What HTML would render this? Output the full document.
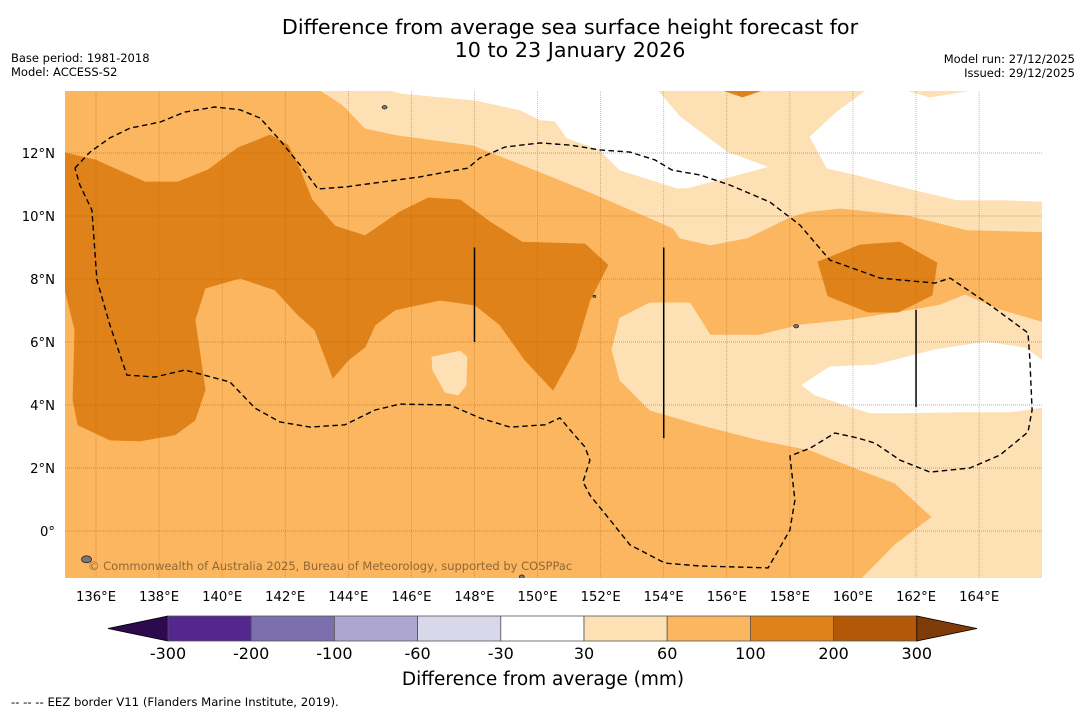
<!DOCTYPE html>
<html><head><meta charset="utf-8"><style>
html,body{margin:0;padding:0;background:#fff;}
svg{display:block;font-family:"DejaVu Sans","Liberation Sans",sans-serif;}
</style></head><body>
<svg id="chart" width="1085" height="713" viewBox="0 0 1085 713" xmlns="http://www.w3.org/2000/svg">
<defs><clipPath id="mapclip"><rect x="65" y="91" width="977" height="487"/></clipPath></defs>
<text x="570" y="34" text-anchor="middle" font-size="20.7" fill="#000">Difference from average sea surface height forecast for</text>
<text x="570" y="57" text-anchor="middle" font-size="20.7" fill="#000">10 to 23 January 2026</text>
<text x="11" y="62" font-size="11.5">Base period: 1981-2018</text>
<text x="11" y="76" font-size="11.5">Model: ACCESS-S2</text>
<text x="1075" y="63" font-size="11.5" text-anchor="end">Model run: 27/12/2025</text>
<text x="1075" y="77" font-size="11.5" text-anchor="end">Issued: 29/12/2025</text>
<g id="map" clip-path="url(#mapclip)"></g>
<g id="axes"></g>
<g id="cbar"></g>
<text x="543" y="685" text-anchor="middle" font-size="18.5">Difference from average (mm)</text>
<text x="11" y="706" font-size="11.7">--  --  -- EEZ border V11 (Flanders Marine Institute, 2019).</text>
</svg>
<script>
// ---- data ----
const lonTicks = [136,138,140,142,144,146,148,150,152,154,156,158,160,162,164];
const latTicks = [0,2,4,6,8,10,12];
const cbarLevels = [-300,-200,-100,-60,-30,30,60,100,200,300];
const cbarColors = ["#54278f","#7b6fad","#aca6d0","#d8d8ea","#ffffff","#fde0b4","#fbb65f","#e0821a","#b35806"];
const cbarLow = "#2d0a4e", cbarHigh = "#7f3b08";
const darkWest = [[135.02,12.0],[135.97,11.78],[137.55,11.08],[138.6,11.08],[139.55,11.46],[140.5,12.16],[141.52,12.57],[142.09,12.25],[142.47,11.46],[142.85,10.51],[143.58,9.68],[144.53,9.37],[145.64,10.13],[146.53,10.57],[147.54,10.51],[148.49,9.81],[149.51,9.17],[151.5,9.11],[152.23,8.44],[151.66,7.33],[151.19,5.75],[150.49,4.48],[149.6,5.43],[148.81,6.54],[148.02,7.17],[146.91,7.33],[145.48,7.02],[144.85,6.54],[144.53,5.84],[144.0,5.43],[143.51,4.86],[142.94,6.38],[142.4,6.86],[141.68,7.65],[140.57,8.03],[139.46,7.71],[139.14,6.7],[139.46,4.48],[139.14,3.52],[138.5,3.05],[137.4,2.86],[136.44,2.89],[135.43,3.37],[135.27,4.16],[135.33,6.38],[135.02,7.65],[134.5,7.65],[134.5,12.0]];
const darkEast = [[158.89,8.54],[160.22,9.08],[161.49,9.17],[162.66,8.51],[162.51,7.49],[161.43,6.95],[160.48,6.95],[159.21,7.46]];
const darkTop = [[155.85,14.2],[157.15,14.2],[157.15,14.0],[156.5,13.78],[155.85,14.0]];
const lightNorth = [[143.1,14.2],[143.1,14],[143.83,13.52],[144.53,12.79],[145.54,12.57],[147.95,12.25],[150.08,11.40],[151.66,10.76],[154.29,9.62],[154.52,9.30],[155.47,9.08],[156.64,9.30],[157.94,9.94],[158.54,10.13],[159.59,10.25],[161.71,10.03],[163.62,9.56],[166.5,9.49],[166.5,14.2]];
const whiteNorthMid = [[145.32,14.2],[153.79,14.2],[153.79,14],[154.52,13.14],[156.01,12.03],[157.27,11.56],[154.74,10.89],[154.42,10.89],[152.61,11.46],[151.98,12.10],[150.93,12.48],[150.55,13.02],[150.08,13.05],[149.44,13.37],[148.02,13.68],[145.64,13.9],[145.32,14]];
const whiteNorthEast = [[160.45,14.2],[161.59,14.2],[161.59,14],[162.44,13.75],[163.96,14],[163.96,14.2],[166.5,14.2],[166.5,10.44],[164.88,10.51],[163.3,10.51],[161.71,10.89],[160.13,11.30],[159.18,11.52],[158.64,12.51],[159.49,13.3],[160.45,14]];
const lightSouthEast = [[152.61,6.76],[153.56,7.24],[154.83,7.24],[155.47,6.22],[157.05,6.22],[158.32,6.54],[159.91,6.70],[161.49,6.95],[162.76,7.17],[163.55,7.49],[164.66,7.02],[166.5,6.48],[166.5,-2],[160.0,-2],[160.29,-1.5],[161.33,-0.44],[162.51,0.44],[161.33,1.52],[160.22,1.94],[158.64,2.57],[157.05,2.89],[155.15,3.37],[153.56,3.84],[152.61,4.79],[152.36,5.75]];
const whiteSouthEast = [[158.38,4.63],[159.27,5.21],[160.7,5.27],[162.6,5.75],[164.19,6.0],[165.45,5.81],[166.5,5.05],[166.5,4.0],[164.98,3.78],[163.39,3.78],[161.65,3.75],[160.54,3.75],[159.75,4.0],[158.8,4.32]];
const lightBlob = [[146.65,5.52],[147.54,5.71],[147.76,5.52],[147.73,4.63],[147.48,4.32],[147.07,4.41],[146.68,5.11]];
const eezLine = [[135.33,11.52],[135.81,12.03],[136.44,12.48],[137.08,12.79],[138.03,12.98],[138.82,13.3],[139.77,13.46],[140.57,13.37],[141.2,13.11],[141.83,12.41],[142.47,11.62],[143.04,10.86],[143.89,10.92],[146.27,11.24],[147.79,11.52],[148.17,11.84],[148.97,12.19],[150.08,12.32],[151.03,12.25],[151.98,12.10],[152.93,12.03],[153.72,11.78],[154.26,11.46],[155.15,11.3],[156.1,10.98],[157.37,10.44],[158.32,9.71],[159.27,8.6],[160.86,8.03],[162.6,7.87],[163.08,8.03],[164.35,7.17],[165.55,6.29],[165.61,5.43],[165.68,3.84],[165.55,3.14],[164.66,2.41],[163.71,2.0],[162.44,1.87],[161.49,2.25],[160.7,2.79],[160.16,2.95],[159.43,3.11],[158.64,2.63],[158.0,2.38],[158.16,0.98],[158.0,0.03],[157.31,-1.17],[155.15,-1.11],[154.04,-1.02],[152.93,-0.44],[152.3,0.35],[151.66,1.14],[151.44,1.56],[151.66,2.25],[151.5,2.67],[151.09,3.14],[150.71,3.59],[150.24,3.37],[149.13,3.30],[148.17,3.59],[147.22,4.0],[145.64,4.03],[144.85,3.84],[143.89,3.37],[142.79,3.30],[141.83,3.46],[141.04,3.9],[140.25,4.73],[138.82,5.11],[137.87,4.89],[136.98,4.95],[136.44,6.54],[136.03,7.97],[135.87,10.19],[135.49,10.98],[135.33,11.52]];
const vLines = [[148,9.0,6.0],[154,9.0,2.95],[162,7.02,3.94]];
const islands = [[145.15,13.45,2.5],[135.7,-0.9,5],[158.2,6.5,2.5],[149.5,-1.45,2.5],[151.8,7.45,1.5]];
// ---- axis functions ----
const X = lon => 96 + (lon-136)*31.54;
const Y = lat => 531 - lat*31.5;
const NS = "http://www.w3.org/2000/svg";
function mk(tag, attrs, parent){const e=document.createElementNS(NS,tag);for(const k in attrs)e.setAttribute(k,attrs[k]);parent.appendChild(e);return e;}
const map = document.getElementById('map');
const axes = document.getElementById('axes');
const cbar = document.getElementById('cbar');
const pts = arr => arr.map(p=>X(p[0]).toFixed(1)+','+Y(p[1]).toFixed(1)).join(' ');
let bg = mk('rect',{x:65,y:91,width:977,height:487,fill:cbarColors[6]},map);


function poly(arr, fill, name){
  const e = mk('polygon',{points:pts(arr),fill:fill,stroke:fill,'stroke-width':0.8},map);
  
  
}
poly(lightNorth, cbarColors[5], 'contour-30-60-north');
poly(whiteNorthMid, cbarColors[4], 'contour-neutral-north-mid');
poly(whiteNorthEast, cbarColors[4], 'contour-neutral-north-east');
poly(lightSouthEast, cbarColors[5], 'contour-30-60-southeast');
poly(whiteSouthEast, cbarColors[4], 'contour-neutral-southeast');
poly(lightBlob, cbarColors[5], 'contour-30-60-blob');
poly(darkWest, cbarColors[7], 'contour-100-200-west');
poly(darkEast, cbarColors[7], 'contour-100-200-east');
poly(darkTop, cbarColors[7], 'contour-100-200-top');
lonTicks.forEach(l=>{
  const g = mk('line',{x1:X(l),x2:X(l),y1:91,y2:578,stroke:'#7a6a5a','stroke-width':0.7,'stroke-dasharray':'1,1','stroke-opacity':0.6},map);
  
  
});
latTicks.forEach(l=>{
  const g = mk('line',{x1:65,x2:1042,y1:Y(l),y2:Y(l),stroke:'#7a6a5a','stroke-width':0.7,'stroke-dasharray':'1,1','stroke-opacity':0.7},map);
  
  
});
islands.forEach(p=>{
  const e = mk('ellipse',{cx:X(p[0]),cy:Y(p[1]),rx:p[2],ry:p[2]*0.7,fill:'#777',stroke:'#000','stroke-width':0.6},map);
  
  
});
const eez = mk('polyline',{points:pts(eezLine),fill:'none',stroke:'#000','stroke-width':1.4,'stroke-dasharray':'5.5,3.5'},map);


vLines.forEach(v=>{
  const e = mk('line',{x1:X(v[0]),x2:X(v[0]),y1:Y(v[1]),y2:Y(v[2]),stroke:'#000','stroke-width':1.5},map);
  
  
});
const wm = mk('text',{x:88,y:570,'font-size':11.5,fill:'#7a5a30','fill-opacity':0.85},map);
wm.textContent = '© Commonwealth of Australia 2025, Bureau of Meteorology, supported by COSPPac';


lonTicks.forEach(l=>{
  const t = mk('text',{x:X(l),y:601,'text-anchor':'middle','font-size':13.2},axes);
  t.textContent = l+'°E';
  
  
});
latTicks.forEach(l=>{
  const t = mk('text',{x:55,y:Y(l)+5,'text-anchor':'end','font-size':13.2},axes);
  t.textContent = l===0 ? '0°' : l+'°N';
  
  
});
const cbX0 = 168, cbW = 83.2, cbY = 616, cbH = 25;
const cx = i => cbX0 + i*cbW;
const lt = mk('polygon',{points:`${cx(0)},${cbY} ${cx(0)},${cbY+cbH} 108,${cbY+cbH/2}`,fill:cbarLow,stroke:'#000','stroke-width':0.8},cbar);


cbarColors.forEach((c,i)=>{
  const r = mk('rect',{x:cx(i),y:cbY,width:cbW,height:cbH,fill:c,stroke:'#555','stroke-width':0.8},cbar);
  
  
});
const rt = mk('polygon',{points:`${cx(9)},${cbY} ${cx(9)},${cbY+cbH} 977,${cbY+cbH/2}`,fill:cbarHigh,stroke:'#000','stroke-width':0.8},cbar);


cbarLevels.forEach((v,i)=>{
  const t = mk('text',{x:cx(i),y:659,'text-anchor':'middle','font-size':16},cbar);
  t.textContent = v;
  
  
});
</script>
</body></html>
